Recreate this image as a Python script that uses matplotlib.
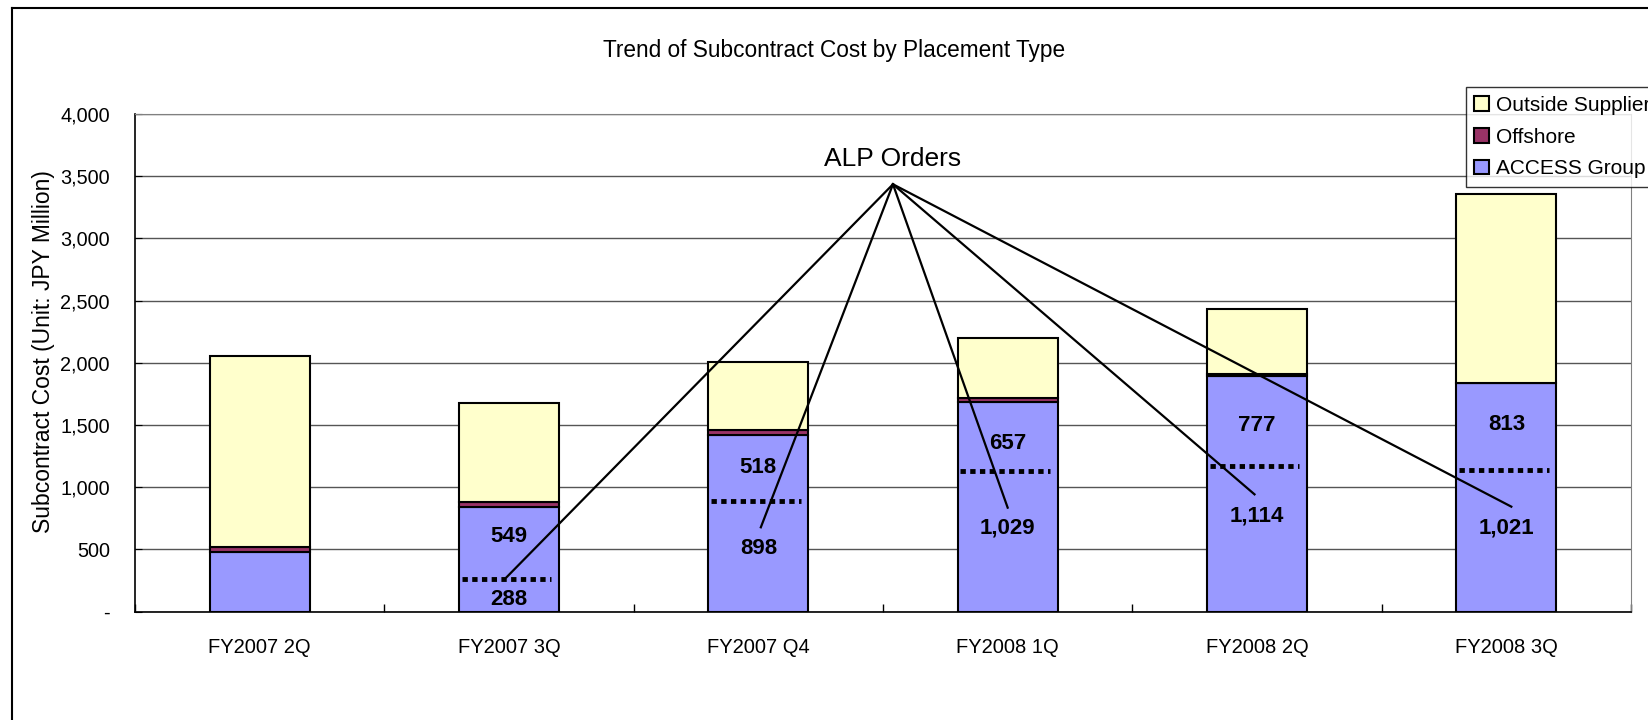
import matplotlib
matplotlib.use("Agg")
import matplotlib.pyplot as plt
import numpy as np
from matplotlib.lines import Line2D
from matplotlib.ticker import FuncFormatter

plt.rcParams['font.family'] = ['Liberation Sans', 'DejaVu Sans']

# ---- data ----
categories = ["FY2007 2Q", "FY2007 3Q", "FY2007 Q4", "FY2008 1Q", "FY2008 2Q", "FY2008 3Q"]
alp_orders = [None, 288, 898, 1029, 1114, 1021]          # ACCESS Group: ALP orders
access_other = [None, 549, 518, 657, 777, 813]           # ACCESS Group: other orders
access_group = [476, 837, 1416, 1686, 1891, 1834]
offshore = [45, 40, 45, 32, 15, 3]
outside_supplier = [1533, 797, 548, 484, 524, 1517]
alp_divider = [None, 264, 891, 1132, 1170, 1138]        # dotted separator level as drawn

# label positions (data y) as drawn in the reference
upper_label_y = [None, 601, 1154, 1347, 1492, 1505]
lower_label_y = [None, 98, 508, 669, 768, 669]
# ALP callout
alp_apex = (2.54, 3435)
alp_ends_x = [None, 0.99, 2.01, 3.0, 3.99, 5.02]
alp_ends_y = [None, 275, 677, 835, 942, 843]

c_access = "#9999FF"
c_off = "#993366"
c_out = "#FFFFCC"

W, H = 1649, 720
fig = plt.figure(figsize=(W / 100, H / 100), dpi=100)
ax = fig.add_axes([135 / W, 1 - 611.5 / H, (1631 - 135) / W, (611.5 - 114) / H])

x = np.arange(len(categories))
bw = 0.4
a = np.array(access_group, float)
o = np.array(offshore, float)
s = np.array(outside_supplier, float)
ekw = dict(edgecolor="black", linewidth=1.5, zorder=3)
b1 = ax.bar(x, a, bw, color=c_access, label="ACCESS Group", **ekw)
b2 = ax.bar(x, o, bw, bottom=a, color=c_off, label="Offshore", **ekw)
b3 = ax.bar(x, s, bw, bottom=a + o, color=c_out, label="Outside Supplier", **ekw)

# dotted ALP dividers and labels
for i in range(len(categories)):
    if alp_orders[i] is None:
        continue
    ax.hlines(alp_divider[i], x[i] - 0.19, x[i] + 0.17, colors="black",
              linewidth=3.5, linestyles=(0, (1.1, 0.9)), zorder=4)
    ax.text(x[i], upper_label_y[i], f"{access_other[i]:,}", ha="center", va="center",
            fontsize=16, fontweight="bold", zorder=6)
    ax.text(x[i], lower_label_y[i], f"{alp_orders[i]:,}", ha="center", va="center",
            fontsize=16, fontweight="bold", zorder=6)
    ax.plot([alp_apex[0], alp_ends_x[i]], [alp_apex[1], alp_ends_y[i]],
            color="black", linewidth=1.6, zorder=5)

ax.text(alp_apex[0], 3639, "ALP Orders", ha="center", va="center", fontsize=19, zorder=6)

ax.set_xlim(-0.5, len(categories) - 0.5)
ax.set_ylim(0, 4000)
ax.set_yticks(np.arange(0, 4001, 500))
ax.yaxis.set_major_formatter(FuncFormatter(lambda v, p: "-" if v == 0 else f"{int(v):,}"))
ax.set_xticks(x)
ax.set_xticklabels(categories)
ax.set_xticks(np.arange(-0.5, len(categories), 1), minor=True)
ax.tick_params(axis="x", which="major", length=0, pad=19, labelsize=14.5)
ax.tick_params(axis="x", which="minor", direction="in", length=6, width=1)
ax.tick_params(axis="y", direction="in", length=5, pad=18, labelsize=14.3)
ax.grid(axis="y", color="#555555", linewidth=1, zorder=0)
ax.set_axisbelow(True)
for sp in ["top", "right"]:
    ax.spines[sp].set_color("#808080")
for sp in ["left", "bottom"]:
    ax.spines[sp].set_color("black")
    ax.spines[sp].set_linewidth(1.2)

fig.text(44 / W, 1 - 352 / H, "Subcontract Cost (Unit: JPY Million)", rotation=90,
         ha="center", va="center", fontsize=16.5)
fig.text(834 / W, 1 - 50 / H, "Trend of Subcontract Cost by Placement Type",
         ha="center", va="center", fontsize=16.3)

leg = fig.legend(handles=[b3, b2, b1], labels=["Outside Supplier", "Offshore", "ACCESS Group"],
                 loc="upper left", bbox_to_anchor=(1466 / W, 1 - 87.3 / H),
                 bbox_transform=fig.transFigure, fontsize=15, frameon=True, fancybox=False,
                 borderaxespad=0, borderpad=0.4, handlelength=0.7, handleheight=0.7,
                 handletextpad=0.35, labelspacing=0.62)
leg.get_frame().set_edgecolor("black")
leg.get_frame().set_linewidth(1.0)

# outer chart border
fig.add_artist(Line2D([12 / W, 12 / W], [0, 1 - 8 / H], color="black", linewidth=1.5,
                      transform=fig.transFigure))
fig.add_artist(Line2D([12 / W, 1], [1 - 8 / H, 1 - 8 / H], color="black", linewidth=1.5,
                      transform=fig.transFigure))

fig.savefig("out.png", dpi=100)
